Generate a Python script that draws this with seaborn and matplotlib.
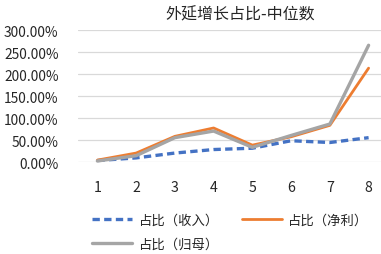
import seaborn as sns
import matplotlib.pyplot as plt
import pandas as pd
from matplotlib.ticker import PercentFormatter
from matplotlib.lines import Line2D

periods = [1, 2, 3, 4, 5, 6, 7, 8]
share_revenue = [0.04, 0.10, 0.21, 0.29, 0.32, 0.49, 0.45, 0.56]
share_net_profit = [0.05, 0.21, 0.59, 0.78, 0.39, 0.58, 0.84, 2.14]
share_parent = [0.03, 0.15, 0.56, 0.71, 0.34, 0.61, 0.87, 2.66]
series_names = ["占比（收入）", "占比（净利）", "占比（归母）"]
title = "外延增长占比-中位数"

sns.set_style("white")
plt.rcParams['font.family'] = ['Noto Sans CJK SC', 'DejaVu Sans']

df = pd.DataFrame({
    "period": periods * 3,
    "value": share_revenue + share_net_profit + share_parent,
    "series": [series_names[0]] * 8 + [series_names[1]] * 8 + [series_names[2]] * 8,
})
colors = {series_names[0]: "#4472C4", series_names[1]: "#ED7D31", series_names[2]: "#A5A5A5"}
widths = {series_names[0]: 2.4, series_names[1]: 2.0, series_names[2]: 2.4}
dashes = {series_names[0]: (2.2, 1.3), series_names[1]: "", series_names[2]: ""}

fig = plt.figure(figsize=(3.81, 2.55), dpi=100)
ax = fig.add_axes([78 / 381, (255 - 163.3) / 255, (381 - 78) / 381, 132 / 255])

for name in series_names:
    sub = df[df["series"] == name]
    sns.lineplot(sub, x="period", y="value", color=colors[name], lw=widths[name],
                 ax=ax, legend=False, clip_on=False,
                 linestyle="--" if dashes[name] else "-")
    if dashes[name]:
        ax.lines[-1].set_dashes(dashes[name])

ax.set_xlim(0.5, 8.32)
ax.set_ylim(0, 3)
ax.set_yticks([0, 0.5, 1, 1.5, 2, 2.5, 3])
ax.yaxis.set_major_formatter(PercentFormatter(1.0, decimals=2))
ax.set_xticks(periods)
ax.grid(axis="y", color="#D9D9D9", lw=0.9)
ax.set_axisbelow(True)
for s in ax.spines.values():
    s.set_visible(False)
ax.tick_params(axis="x", length=0, pad=13, labelsize=10.2, colors="#262626")
ax.tick_params(axis="y", length=0, pad=14, labelsize=9.9, colors="#262626")
ax.set_xlabel("")
ax.set_ylabel("")

fig.text(240 / 381, 1 - 15 / 255, title, ha="center", va="center", fontsize=11.5, color="#262626")

handles = [
    Line2D([], [], color=colors[series_names[0]], lw=2.4, dashes=dashes[series_names[0]]),
    Line2D([], [], color=colors[series_names[2]], lw=2.4),
    Line2D([], [], color=colors[series_names[1]], lw=2.0),
]
labels = [series_names[0], series_names[2], series_names[1]]
fig.legend(handles, labels, ncol=2, loc="upper left", bbox_to_anchor=(80 / 381, 1 - 202 / 255),
           frameon=False, fontsize=9.6, handlelength=3.0, columnspacing=1.7,
           labelspacing=0.75, handletextpad=0.5, labelcolor="#262626")

fig.savefig("out.png", dpi=100)
